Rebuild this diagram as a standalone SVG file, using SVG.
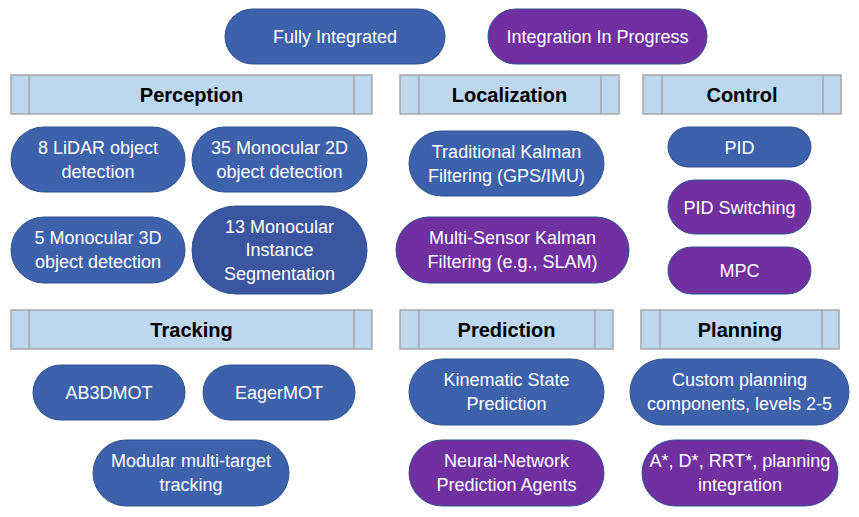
<svg xmlns="http://www.w3.org/2000/svg" width="859" height="517" viewBox="0 0 859 517">
<style>
.b{fill:#3D61AB;stroke:#2F528F;stroke-width:1}
.d{fill:#3B55A1;stroke:#2F528F;stroke-width:1}
.p{fill:#7030A0;stroke:#2F528F;stroke-width:1}
.h{fill:#BDD7EE;stroke:#A6A6A6;stroke-width:1.5}
.hl{stroke:#A6A6A6;stroke-width:1.5;fill:none}
.t{font-family:"Liberation Sans",Arial,sans-serif;font-size:18px;fill:#FFFFFF;text-anchor:middle}
.ht{font-family:"Liberation Sans",Arial,sans-serif;font-size:20px;font-weight:bold;fill:#000000;text-anchor:middle}
</style>
<rect width="859" height="517" fill="#FFFFFF"/>
<g id="legend-fully"><rect class="b" x="225" y="9" width="220" height="55" rx="27.5"/><text class="t" x="335" y="43">Fully Integrated</text></g>
<g id="legend-progress"><rect class="p" x="488" y="9" width="219" height="55" rx="27.5"/><text class="t" x="597.5" y="43">Integration In Progress</text></g>

<g id="hdr-perception"><rect class="h" x="11" y="75" width="361" height="39"/><path class="hl" d="M29 75V114M354 75V114"/><text class="ht" x="191.5" y="101.5">Perception</text></g>
<g id="hdr-localization"><rect class="h" x="400" y="75" width="219" height="39"/><path class="hl" d="M419 75V114M601 75V114"/><text class="ht" x="509.5" y="101.5">Localization</text></g>
<g id="hdr-control"><rect class="h" x="643" y="75" width="198" height="39"/><path class="hl" d="M662 75V114M823 75V114"/><text class="ht" x="742" y="101.5">Control</text></g>
<g id="hdr-tracking"><rect class="h" x="11" y="310" width="361" height="39"/><path class="hl" d="M29 310V349M354 310V349"/><text class="ht" x="191.5" y="336.5">Tracking</text></g>
<g id="hdr-prediction"><rect class="h" x="400" y="310" width="213" height="39"/><path class="hl" d="M419 310V349M595 310V349"/><text class="ht" x="506.5" y="336.5">Prediction</text></g>
<g id="hdr-planning"><rect class="h" x="641" y="310" width="198" height="39"/><path class="hl" d="M660 310V349M822 310V349"/><text class="ht" x="740" y="336.5">Planning</text></g>

<g id="n-lidar"><rect class="b" x="11" y="127" width="174" height="65" rx="32.5"/><text class="t" x="98" y="154">8 LiDAR object</text><text class="t" x="98" y="178">detection</text></g>
<g id="n-mono2d"><rect class="b" x="192" y="127" width="175" height="65" rx="32.5"/><text class="t" x="279.5" y="154">35 Monocular 2D</text><text class="t" x="279.5" y="178">object detection</text></g>
<g id="n-mono3d"><rect class="b" x="11" y="217" width="174" height="66" rx="33"/><text class="t" x="98" y="244">5 Monocular 3D</text><text class="t" x="98" y="268">object detection</text></g>
<g id="n-instseg"><rect class="d" x="192" y="206" width="175" height="88" rx="44"/><text class="t" x="279.5" y="232.5">13 Monocular</text><text class="t" x="279.5" y="256">Instance</text><text class="t" x="279.5" y="279.5">Segmentation</text></g>

<g id="n-kalman"><rect class="b" x="409" y="131" width="195" height="65" rx="32.5"/><text class="t" x="506.5" y="158">Traditional Kalman</text><text class="t" x="506.5" y="182">Filtering (GPS/IMU)</text></g>
<g id="n-multikalman"><rect class="p" x="396" y="217" width="233" height="66" rx="33"/><text class="t" x="512.5" y="244">Multi-Sensor Kalman</text><text class="t" x="512.5" y="268">Filtering (e.g., SLAM)</text></g>

<g id="n-pid"><rect class="b" x="668" y="127" width="143" height="40" rx="20"/><text class="t" x="739.5" y="153.5">PID</text></g>
<g id="n-pidsw"><rect class="p" x="668" y="180" width="143" height="54" rx="27"/><text class="t" x="739.5" y="213.5">PID Switching</text></g>
<g id="n-mpc"><rect class="p" x="668" y="247" width="143" height="47" rx="23.5"/><text class="t" x="739.5" y="277">MPC</text></g>

<g id="n-ab3dmot"><rect class="b" x="33" y="365" width="152" height="55" rx="27.5"/><text class="t" x="109" y="399">AB3DMOT</text></g>
<g id="n-eagermot"><rect class="b" x="203" y="365" width="152" height="55" rx="27.5"/><text class="t" x="279" y="399">EagerMOT</text></g>
<g id="n-modular"><rect class="b" x="93" y="440" width="196" height="66" rx="33"/><text class="t" x="191" y="467">Modular multi-target</text><text class="t" x="191" y="491">tracking</text></g>

<g id="n-kinematic"><rect class="b" x="409" y="359" width="195" height="66" rx="33"/><text class="t" x="506.5" y="386">Kinematic State</text><text class="t" x="506.5" y="410">Prediction</text></g>
<g id="n-neural"><rect class="p" x="409" y="440" width="195" height="66" rx="33"/><text class="t" x="506.5" y="467">Neural-Network</text><text class="t" x="506.5" y="491">Prediction Agents</text></g>

<g id="n-custom"><rect class="b" x="630" y="359" width="219" height="66" rx="33"/><text class="t" x="739.5" y="386">Custom planning</text><text class="t" x="739.5" y="410">components, levels 2-5</text></g>
<g id="n-astar"><rect class="p" x="642" y="440" width="196" height="66" rx="33"/><text class="t" x="740" y="467">A*, D*, RRT*, planning</text><text class="t" x="740" y="491">integration</text></g>

<g id="connectors"></g>
</svg>
